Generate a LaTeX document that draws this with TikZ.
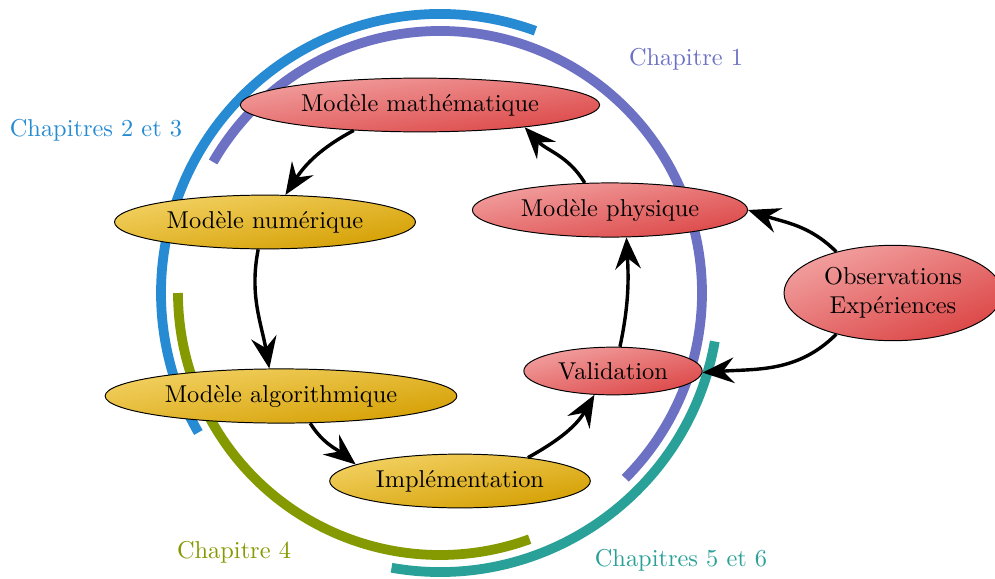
\documentclass[tikz,border=0pt]{standalone}
\usetikzlibrary{shapes.geometric,arrows.meta}
\definecolor{solblue}{HTML}{268BD2}
\definecolor{solviolet}{HTML}{6C71C4}
\definecolor{solgreen}{HTML}{859900}
\definecolor{solcyan}{HTML}{2AA198}
\definecolor{redL}{RGB}{242,160,160}
\definecolor{redD}{RGB}{220,70,70}
\definecolor{yelL}{RGB}{243,210,100}
\definecolor{yelD}{RGB}{212,158,0}
\begin{document}
\begin{tikzpicture}[x=0.41pt,y=0.41pt,
  redbox/.style={ellipse,draw=black,top color=redL,bottom color=redD,shading angle=#1,inner sep=3.333pt},
  redbox/.default=10,
  yelbox/.style={ellipse,draw=black,top color=yelL,bottom color=yelD,shading angle=#1,inner sep=3.333pt},
  yelbox/.default=10,
  arcline/.style={line width=4pt},
  flow/.style={line width=1.4pt,-{Stealth[length=13pt,width=10.5pt,inset=4.5pt]}}
]
\useasboundingbox (0,0) rectangle (995,578);
\coordinate (C) at (440,285);
% chapter arcs
\draw[arcline,solblue] ([shift={(70:279)}]C) arc[start angle=70,end angle=210,radius=279];
\draw[arcline,solviolet] ([shift={(150:262)}]C) arc[start angle=150,end angle=-45,radius=262];
\draw[arcline,solgreen] ([shift={(180:262)}]C) arc[start angle=180,end angle=290,radius=262];
\draw[arcline,solcyan] ([shift={(260:279)}]C) arc[start angle=260,end angle=350,radius=279];
% labels
\node[text=solviolet] (l1) at (686,519) {Chapitre 1};
\node[text=solblue] (l23) at (96,448) {Chapitres 2 et 3};
\node[text=solgreen] (l4) at (234,26) {Chapitre 4};
\node[text=solcyan] (l56) at (681,18) {Chapitres 5 et 6};
% nodes
\node[redbox=8] (math) at (420,473) {Modèle mathématique};
\node[yelbox=10] (num) at (265,356) {Modèle numérique};
\node[yelbox=9] (alg) at (281,182) {Modèle algorithmique};
\node[yelbox=11] (impl) at (460,97) {Implémentation};
\node[redbox=14] (val) at (613,207) {Validation};
\node[redbox=11] (phys) at (610,368) {Modèle physique};
\node[redbox=22,align=center] (obs) at (893,285) {Observations\\Expériences};
% arrows
\draw[flow] (math.201) to[out=208,in=57] (num.53);
\draw[flow] (num.256) to[out=259,in=100] (alg.113);
\draw[flow] (alg.317) to[out=302,in=141] (impl.171);
\draw[flow] (impl.19) to[out=29,in=240] (val.232);
\draw[flow] (val.74) to[out=78,in=273] (phys.301);
\draw[flow] (phys.133) to[out=121,in=313] (math.348);
\draw[flow] (obs.144) to[out=135,in=341] (phys.0);
\draw[flow] (obs.216) to[out=225,in=4] (val.359);
\end{tikzpicture}
\end{document}
